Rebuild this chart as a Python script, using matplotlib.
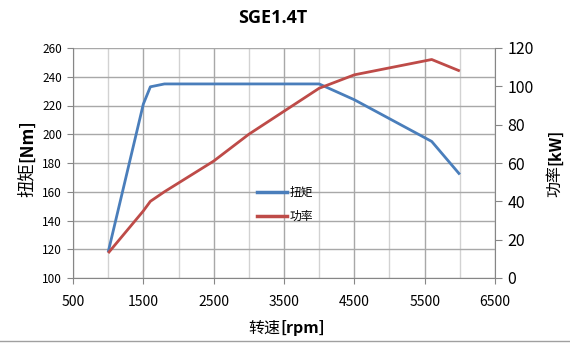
import matplotlib

matplotlib.use("Agg")

import matplotlib.pyplot as plt
from matplotlib.lines import Line2D

plt.rcParams["font.family"] = ["Noto Sans CJK SC", "DejaVu Sans"]

# Datos
rpm = [1000, 1500, 1600, 1800, 2500, 3000, 3500, 4000, 4500, 5600, 6000]
torque_nm = [118, 221, 233, 235, 235, 235, 235, 235, 224, 195, 172]
power_kw = [13, 35, 40, 45, 61, 75, 87, 99, 106, 114, 108]

x_ticks = [500, 1500, 2500, 3500, 4500, 5500, 6500]
x_grid = [1000, 2000, 3000, 4000, 5000, 6000]
torque_ticks = [100, 120, 140, 160, 180, 200, 220, 240, 260]
power_ticks = [0, 20, 40, 60, 80, 100, 120]

BLUE = "#4a7ebb"
RED = "#be4b48"
AXIS = "#868686"
GRID = "#a8a8a8"
GRID_MINOR = "#d2d2d2"

W, H = 570, 356


def fx(px):
    return px / W


def fy(py):
    return 1 - py / H


fig = plt.figure(figsize=(5.7, 3.56), dpi=100)
ax1 = fig.add_axes([fx(73), fy(278), 422 / W, 230 / H])
ax2 = ax1.twinx()

ax1.plot(rpm, torque_nm, color=BLUE, linewidth=2.0, solid_capstyle="butt", zorder=3)
ax2.plot(rpm, power_kw, color=RED, linewidth=2.0, solid_capstyle="butt", zorder=3)

ax1.set_xlim(500, 6500)
ax1.set_ylim(100, 260)
ax2.set_ylim(0, 120)

ax1.set_xticks(x_ticks)
ax1.set_xticks(x_grid, minor=True)
ax1.set_yticks(torque_ticks)
ax2.set_yticks(power_ticks)

ax1.grid(True, which="major", axis="x", color=GRID, linewidth=1.0)
ax1.grid(True, which="minor", axis="x", color=GRID_MINOR, linewidth=1.0)
ax1.grid(True, which="major", axis="y", color=GRID, linewidth=1.0)
ax1.set_axisbelow(True)

for ax in (ax1, ax2):
    ax.spines["top"].set_visible(False)
    for side in ("left", "right", "bottom"):
        ax.spines[side].set_color(AXIS)
ax1.spines["right"].set_visible(False)
ax2.spines["left"].set_visible(False)
ax2.spines["bottom"].set_visible(False)

ax1.tick_params(axis="x", which="major", direction="out", length=4, color=AXIS,
                labelsize=10, pad=8)
ax1.tick_params(axis="x", which="minor", length=0)
ax1.tick_params(axis="y", direction="out", length=4, color=AXIS, labelsize=8.5, pad=4)
ax2.tick_params(axis="y", direction="out", length=5, color=AXIS, labelsize=11.5, pad=4)

# Etiquetas de ejes: parte china normal, unidades en negrita
fig.text(fx(280), fy(328), "转速", ha="right", va="center", fontsize=11.5)
fig.text(fx(280), fy(328), "[rpm]", ha="left", va="center", fontsize=11.5,
         fontweight="bold")
fig.text(fx(27), fy(162), "扭矩", ha="center", va="top", rotation=90, fontsize=12.5)
fig.text(fx(27), fy(162), "[Nm]", ha="center", va="bottom", rotation=90,
         fontsize=12.5, fontweight="bold")
fig.text(fx(555), fy(165), "功率", ha="center", va="top", rotation=90, fontsize=11.5)
fig.text(fx(555), fy(165), "[kW]", ha="center", va="bottom", rotation=90,
         fontsize=11.5, fontweight="bold")

fig.text(fx(273), fy(18), "SGE1.4T", ha="center", va="center",
         fontsize=13, fontweight="bold", family=["Open Sans", "DejaVu Sans"])

handles = [Line2D([], [], color=BLUE, linewidth=2.5),
           Line2D([], [], color=RED, linewidth=2.5)]
ax1.legend(handles, ["扭矩", "功率"], loc="center left",
           bbox_to_anchor=(0.41, 0.32), frameon=False, fontsize=8.5,
           handlelength=2.6, handletextpad=0.2, labelspacing=0.9)

fig.add_artist(Line2D([0, 1], [fy(341), fy(341)], transform=fig.transFigure,
                      color="#a0a0a0", linewidth=1.0))

fig.savefig("out.png", dpi=100)
